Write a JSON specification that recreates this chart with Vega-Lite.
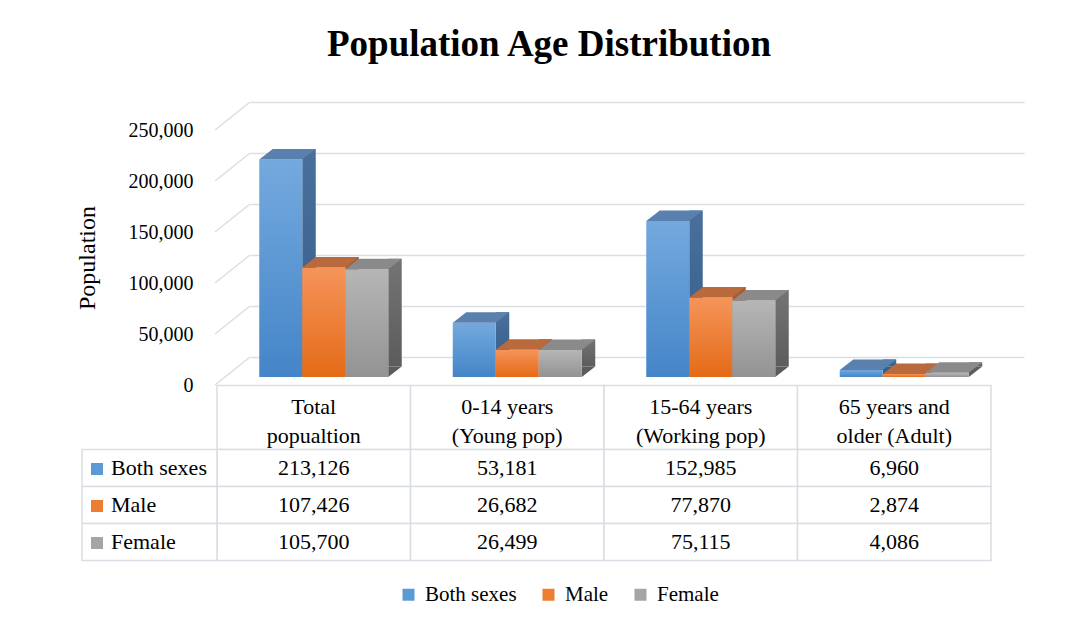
{
  "$schema": "https://vega.github.io/schema/vega-lite/v6.json",
  "autosize": "none",
  "width": 774,
  "height": 255,
  "padding": {"left": 250, "top": 102, "right": 56, "bottom": 266},
  "background": "white",
  "title": {
    "text": "Population  Age Distribution",
    "font": "Liberation Serif",
    "fontSize": 37,
    "fontWeight": "bold",
    "color": "#000000",
    "anchor": "middle",
    "frame": "group",
    "baseline": "alphabetic",
    "dx": -88,
    "offset": 6
  },
  "data": {
    "values": [
      {"category": "Total\npopualtion", "series": "Both sexes", "value": 213126},
      {"category": "0-14 years\n(Young pop)", "series": "Both sexes", "value": 53181},
      {"category": "15-64 years\n(Working pop)", "series": "Both sexes", "value": 152985},
      {"category": "65 years and\nolder (Adult)", "series": "Both sexes", "value": 6960},
      {"category": "Total\npopualtion", "series": "Male", "value": 107426},
      {"category": "0-14 years\n(Young pop)", "series": "Male", "value": 26682},
      {"category": "15-64 years\n(Working pop)", "series": "Male", "value": 77870},
      {"category": "65 years and\nolder (Adult)", "series": "Male", "value": 2874},
      {"category": "Total\npopualtion", "series": "Female", "value": 105700},
      {"category": "0-14 years\n(Young pop)", "series": "Female", "value": 26499},
      {"category": "15-64 years\n(Working pop)", "series": "Female", "value": 75115},
      {"category": "65 years and\nolder (Adult)", "series": "Female", "value": 4086}
    ]
  },
  "encoding": {
    "x": {
      "field": "category",
      "type": "nominal",
      "axis": null,
      "scale": {
        "domain": ["Total\npopualtion", "0-14 years\n(Young pop)", "15-64 years\n(Working pop)", "65 years and\nolder (Adult)"],
        "paddingInner": 0,
        "paddingOuter": 0
      }
    }
  },
  "layer": [
    {
      "description": "Back wall gridlines (axis grid) and the slanted side-wall lines running to the front",
      "data": {"values": [{"v": 0}, {"v": 50000}, {"v": 100000}, {"v": 150000}, {"v": 200000}, {"v": 250000}]},
      "mark": {"type": "point", "shape": "M0,0L-35,28", "size": 4, "filled": false, "opacity": 1, "color": "#d9dde4", "strokeWidth": 1.5, "xOffset": -96.75},
      "encoding": {
        "x": {"datum": "Total\npopualtion", "type": "nominal", "axis": null},
        "y": {
          "field": "v",
          "type": "quantitative",
          "scale": {"domain": [0, 250000], "nice": false, "zero": true},
          "axis": {
            "title": "Population",
            "values": [0, 50000, 100000, 150000, 200000, 250000],
            "format": ","
          }
        }
      }
    },
    {
      "description": "Table header row with the age-group names",
      "transform": [{"filter": {"field": "series", "equal": "Both sexes"}}],
      "layer": [
        {
          "mark": {"type": "rect", "fill": "white", "stroke": "#d9dde4", "strokeWidth": 1.5, "xOffset": -33, "x2Offset": -33, "yOffset": 28.5, "y2Offset": 92.5},
          "encoding": {"y": {"datum": 0}, "y2": {"datum": 0}}
        },
        {
          "mark": {"type": "text", "font": "Liberation Serif", "fontSize": 22, "color": "#000000", "lineBreak": "\n", "lineHeight": 29, "baseline": "middle", "align": "center", "xOffset": -33, "yOffset": 50},
          "encoding": {"y": {"datum": 0}, "text": {"field": "category"}}
        }
      ]
    },
    {
      "description": "Both sexes: 3D bars and table row",
      "transform": [{"filter": {"field": "series", "equal": "Both sexes"}}],
      "layer": [
        {
          "mark": {"type": "bar", "width": 13.5, "xOffset": -37.75, "yOffset": 9.5, "y2Offset": 9.5,
            "color": {"gradient": "linear", "x1": 0, "y1": 0, "x2": 0, "y2": 1, "stops": [{"offset": 0, "color": "#4a6f9b"}, {"offset": 1, "color": "#355e8b"}]}},
          "encoding": {"y": {"field": "value", "type": "quantitative"}, "y2": {"datum": 0}}
        },
        {
          "mark": {"type": "point", "shape": "M21.5,0L21.5,-10.5L35,-10.5Z", "size": 4, "filled": true, "opacity": 1, "color": "#355e8b", "strokeWidth": 0, "xOffset": -66, "yOffset": 20},
          "encoding": {"y": {"datum": 0}}
        },
        {
          "mark": {"type": "bar", "width": 43, "xOffset": -66, "yOffset": 20, "y2Offset": 20,
            "color": {"gradient": "linear", "x1": 0, "y1": 0, "x2": 0, "y2": 1, "stops": [{"offset": 0, "color": "#74a9de"}, {"offset": 1, "color": "#4485c8"}]}},
          "encoding": {"y": {"field": "value", "type": "quantitative"}, "y2": {"datum": 0}}
        },
        {
          "mark": {"type": "point", "shape": "M-21.5,0L21.5,0L35,-10.5L-8,-10.5Z", "size": 4, "filled": true, "opacity": 1, "color": "#5a80ad", "strokeWidth": 0, "xOffset": -66, "yOffset": 20},
          "encoding": {"y": {"field": "value", "type": "quantitative"}}
        },
        {
          "mark": {"type": "rect", "fill": "white", "stroke": "#d9dde4", "strokeWidth": 1.5, "xOffset": -33, "x2Offset": -33, "yOffset": 92.5, "y2Offset": 129.5},
          "encoding": {"y": {"datum": 0}, "y2": {"datum": 0}}
        },
        {
          "mark": {"type": "text", "font": "Liberation Serif", "fontSize": 22, "color": "#000000", "baseline": "middle", "align": "center", "xOffset": -33, "yOffset": 111},
          "encoding": {"y": {"datum": 0}, "text": {"field": "value", "type": "quantitative", "format": ","}}
        },
        {
          "transform": [{"filter": {"field": "category", "equal": "Total\npopualtion"}}],
          "layer": [
            {
              "mark": {"type": "bar", "width": 135, "fill": "white", "stroke": "#d9dde4", "strokeWidth": 1.5, "xOffset": -197.25, "yOffset": 92.5, "y2Offset": 129.5},
              "encoding": {"x": {"datum": "Total\npopualtion", "type": "nominal", "axis": null}, "y": {"datum": 0}, "y2": {"datum": 0}}
            },
            {
              "mark": {"type": "point", "shape": "square", "size": 144, "filled": true, "opacity": 1, "strokeWidth": 0, "xOffset": -249.75, "yOffset": 112},
              "encoding": {
                "x": {"datum": "Total\npopualtion", "type": "nominal", "axis": null},
                "y": {"datum": 0},
                "color": {
                  "field": "series",
                  "type": "nominal",
                  "scale": {"domain": ["Both sexes", "Male", "Female"], "range": ["#5b9bd5", "#ed7d31", "#a5a5a5"]},
                  "legend": {
                    "orient": "none", "legendX": 148, "legendY": 482, "direction": "horizontal", "title": null,
                    "symbolType": "square", "symbolSize": 144, "symbolStrokeWidth": 0, "symbolOpacity": 1,
                    "labelFont": "Liberation Serif", "labelFontSize": 21, "labelColor": "#000000", "labelOffset": 6,
                    "columnPadding": 21, "padding": 0
                  }
                }
              }
            },
            {
              "mark": {"type": "text", "font": "Liberation Serif", "fontSize": 22, "color": "#000000", "baseline": "middle", "align": "left", "xOffset": -235.75, "yOffset": 111},
              "encoding": {"x": {"datum": "Total\npopualtion", "type": "nominal", "axis": null}, "y": {"datum": 0}, "text": {"field": "series"}}
            }
          ]
        }
      ]
    },
    {
      "description": "Male: 3D bars and table row",
      "transform": [{"filter": {"field": "series", "equal": "Male"}}],
      "layer": [
        {
          "mark": {"type": "bar", "width": 13.5, "xOffset": 5.25, "yOffset": 9.5, "y2Offset": 9.5, "color": "#a85a2a"},
          "encoding": {"y": {"field": "value", "type": "quantitative"}, "y2": {"datum": 0}}
        },
        {
          "mark": {"type": "point", "shape": "M21.5,0L21.5,-10.5L35,-10.5Z", "size": 4, "filled": true, "opacity": 1, "color": "#a85a2a", "strokeWidth": 0, "xOffset": -23, "yOffset": 20},
          "encoding": {"y": {"datum": 0}}
        },
        {
          "mark": {"type": "bar", "width": 43, "xOffset": -23, "yOffset": 20, "y2Offset": 20,
            "color": {"gradient": "linear", "x1": 0, "y1": 0, "x2": 0, "y2": 1, "stops": [{"offset": 0, "color": "#f5945a"}, {"offset": 1, "color": "#e46b17"}]}},
          "encoding": {"y": {"field": "value", "type": "quantitative"}, "y2": {"datum": 0}}
        },
        {
          "mark": {"type": "point", "shape": "M-21.5,0L21.5,0L35,-10.5L-8,-10.5Z", "size": 4, "filled": true, "opacity": 1, "color": "#b96a3c", "strokeWidth": 0, "xOffset": -23, "yOffset": 20},
          "encoding": {"y": {"field": "value", "type": "quantitative"}}
        },
        {
          "mark": {"type": "rect", "fill": "white", "stroke": "#d9dde4", "strokeWidth": 1.5, "xOffset": -33, "x2Offset": -33, "yOffset": 129.5, "y2Offset": 166.5},
          "encoding": {"y": {"datum": 0}, "y2": {"datum": 0}}
        },
        {
          "mark": {"type": "text", "font": "Liberation Serif", "fontSize": 22, "color": "#000000", "baseline": "middle", "align": "center", "xOffset": -33, "yOffset": 148},
          "encoding": {"y": {"datum": 0}, "text": {"field": "value", "type": "quantitative", "format": ","}}
        },
        {
          "transform": [{"filter": {"field": "category", "equal": "Total\npopualtion"}}],
          "layer": [
            {
              "mark": {"type": "bar", "width": 135, "fill": "white", "stroke": "#d9dde4", "strokeWidth": 1.5, "xOffset": -197.25, "yOffset": 129.5, "y2Offset": 166.5},
              "encoding": {"x": {"datum": "Total\npopualtion", "type": "nominal", "axis": null}, "y": {"datum": 0}, "y2": {"datum": 0}}
            },
            {
              "mark": {"type": "point", "shape": "square", "size": 144, "filled": true, "opacity": 1, "strokeWidth": 0, "xOffset": -249.75, "yOffset": 149},
              "encoding": {
                "x": {"datum": "Total\npopualtion", "type": "nominal", "axis": null},
                "y": {"datum": 0},
                "color": {"field": "series", "type": "nominal"}
              }
            },
            {
              "mark": {"type": "text", "font": "Liberation Serif", "fontSize": 22, "color": "#000000", "baseline": "middle", "align": "left", "xOffset": -235.75, "yOffset": 148},
              "encoding": {"x": {"datum": "Total\npopualtion", "type": "nominal", "axis": null}, "y": {"datum": 0}, "text": {"field": "series"}}
            }
          ]
        }
      ]
    },
    {
      "description": "Female: 3D bars and table row",
      "transform": [{"filter": {"field": "series", "equal": "Female"}}],
      "layer": [
        {
          "mark": {"type": "bar", "width": 13.5, "xOffset": 48.25, "yOffset": 9.5, "y2Offset": 9.5,
            "color": {"gradient": "linear", "x1": 0, "y1": 0, "x2": 0, "y2": 1, "stops": [{"offset": 0, "color": "#747474"}, {"offset": 1, "color": "#5c5c5c"}]}},
          "encoding": {"y": {"field": "value", "type": "quantitative"}, "y2": {"datum": 0}}
        },
        {
          "mark": {"type": "point", "shape": "M21.5,0L21.5,-10.5L35,-10.5Z", "size": 4, "filled": true, "opacity": 1, "color": "#5c5c5c", "strokeWidth": 0, "xOffset": 20, "yOffset": 20},
          "encoding": {"y": {"datum": 0}}
        },
        {
          "mark": {"type": "bar", "width": 43, "xOffset": 20, "yOffset": 20, "y2Offset": 20,
            "color": {"gradient": "linear", "x1": 0, "y1": 0, "x2": 0, "y2": 1, "stops": [{"offset": 0, "color": "#b6b6b6"}, {"offset": 1, "color": "#939393"}]}},
          "encoding": {"y": {"field": "value", "type": "quantitative"}, "y2": {"datum": 0}}
        },
        {
          "mark": {"type": "point", "shape": "M-21.5,0L21.5,0L35,-10.5L-8,-10.5Z", "size": 4, "filled": true, "opacity": 1, "color": "#8a8a8a", "strokeWidth": 0, "xOffset": 20, "yOffset": 20},
          "encoding": {"y": {"field": "value", "type": "quantitative"}}
        },
        {
          "mark": {"type": "rect", "fill": "white", "stroke": "#d9dde4", "strokeWidth": 1.5, "xOffset": -33, "x2Offset": -33, "yOffset": 166.5, "y2Offset": 203.5},
          "encoding": {"y": {"datum": 0}, "y2": {"datum": 0}}
        },
        {
          "mark": {"type": "text", "font": "Liberation Serif", "fontSize": 22, "color": "#000000", "baseline": "middle", "align": "center", "xOffset": -33, "yOffset": 185},
          "encoding": {"y": {"datum": 0}, "text": {"field": "value", "type": "quantitative", "format": ","}}
        },
        {
          "transform": [{"filter": {"field": "category", "equal": "Total\npopualtion"}}],
          "layer": [
            {
              "mark": {"type": "bar", "width": 135, "fill": "white", "stroke": "#d9dde4", "strokeWidth": 1.5, "xOffset": -197.25, "yOffset": 166.5, "y2Offset": 203.5},
              "encoding": {"x": {"datum": "Total\npopualtion", "type": "nominal", "axis": null}, "y": {"datum": 0}, "y2": {"datum": 0}}
            },
            {
              "mark": {"type": "point", "shape": "square", "size": 144, "filled": true, "opacity": 1, "strokeWidth": 0, "xOffset": -249.75, "yOffset": 186},
              "encoding": {
                "x": {"datum": "Total\npopualtion", "type": "nominal", "axis": null},
                "y": {"datum": 0},
                "color": {"field": "series", "type": "nominal"}
              }
            },
            {
              "mark": {"type": "text", "font": "Liberation Serif", "fontSize": 22, "color": "#000000", "baseline": "middle", "align": "left", "xOffset": -235.75, "yOffset": 185},
              "encoding": {"x": {"datum": "Total\npopualtion", "type": "nominal", "axis": null}, "y": {"datum": 0}, "text": {"field": "series"}}
            }
          ]
        }
      ]
    }
  ],
  "config": {
    "view": {"stroke": null},
    "font": "Liberation Serif",
    "axisY": {
      "domain": false,
      "ticks": false,
      "grid": true,
      "gridColor": "#d9dde4",
      "gridWidth": 1.5,
      "offset": 0,
      "labelPadding": 57,
      "labelOffset": 28,
      "labelExpr": "format(datum.value, ',')",
      "labelFont": "Liberation Serif",
      "labelFontSize": 20,
      "labelColor": "#000000",
      "titleFont": "Liberation Serif",
      "titleFontSize": 24,
      "titleFontWeight": "normal",
      "titleColor": "#000000",
      "titleAngle": -90,
      "titleAlign": "center",
      "titleBaseline": "middle",
      "titleX": -163,
      "titleY": 155.5
    }
  }
}
